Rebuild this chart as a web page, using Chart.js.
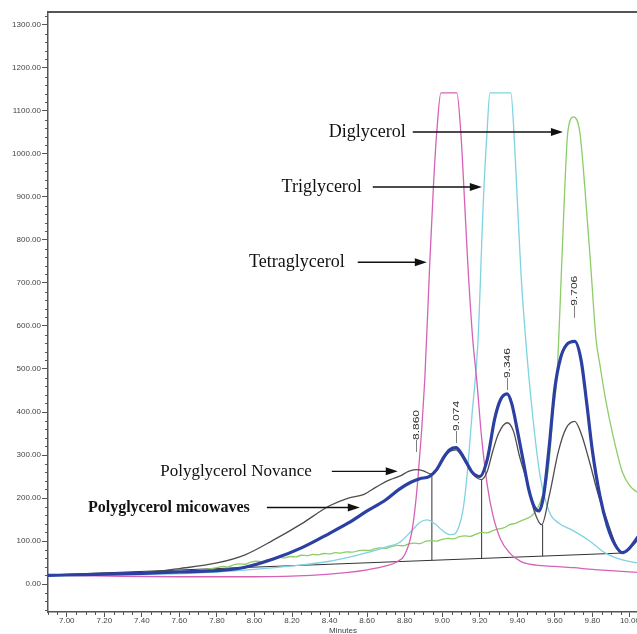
<!DOCTYPE html>
<html>
<head>
<meta charset="utf-8">
<script src="https://cdn.jsdelivr.net/npm/chart.js@4.4.1/dist/chart.umd.min.js"></script>
<style>
html, body { margin: 0; padding: 0; overflow: hidden; background: #fff; }
canvas { display: block; }
</style>
</head>
<body>
<canvas id="graph_canvas" width="660" height="642"></canvas>
<script>
// retention time (minutes) / response for each trace
const microTime = [6.9, 7.0, 7.2, 7.4, 7.6, 7.8, 7.95, 8.1, 8.25, 8.4, 8.5, 8.6, 8.7, 8.77, 8.83, 8.88, 8.93, 8.97, 9.01, 9.04, 9.074, 9.1, 9.13, 9.16, 9.2, 9.24, 9.28, 9.31, 9.346, 9.37, 9.4, 9.43, 9.46, 9.49, 9.515, 9.54, 9.57, 9.6, 9.63, 9.66, 9.706, 9.74, 9.77, 9.8, 9.84, 9.88, 9.92, 9.96, 9.99, 10.043];
const microValue = [20, 21, 23, 25, 28, 31, 39, 58, 84, 118, 142, 170, 196, 220, 236, 245, 250, 266, 296, 312, 317, 305, 282, 260, 250, 290, 385, 428, 442, 420, 358, 290, 222, 180, 170, 205, 320, 455, 525, 555, 564, 520, 420, 310, 205, 135, 92, 73, 80, 110];

const novanceTime = [6.9, 7.0, 7.2, 7.4, 7.6, 7.8, 7.95, 8.1, 8.25, 8.4, 8.5, 8.58, 8.65, 8.72, 8.78, 8.82, 8.86, 8.9, 8.93, 8.95, 8.98, 9.01, 9.04, 9.074, 9.1, 9.13, 9.17, 9.21, 9.24, 9.27, 9.3, 9.346, 9.38, 9.41, 9.45, 9.49, 9.53, 9.57, 9.62, 9.66, 9.706, 9.74, 9.786, 9.83, 9.877, 9.93, 9.957, 9.99, 10.043];
const novanceValue = [20, 21, 23, 26, 36, 49, 68, 102, 140, 182, 200, 208, 226, 242, 252, 262, 266, 263, 257, 255, 270, 293, 308, 312, 300, 278, 252, 243, 262, 310, 350, 375, 355, 300, 240, 170, 138, 205, 310, 362, 378, 350, 282, 210, 149, 86, 72, 80, 102];

const tetraTime = [6.9, 7.0, 7.3, 7.6, 8.0, 8.3, 8.5, 8.6, 8.7, 8.76, 8.8, 8.84, 8.87, 8.907, 8.934, 8.955, 8.971, 8.993, 9.078, 9.099, 9.118, 9.136, 9.163, 9.184, 9.21, 9.24, 9.27, 9.31, 9.36, 9.42, 9.5, 9.6, 9.7, 9.8, 9.9, 10.043];
const tetraValue = [21, 20, 18, 17, 17, 20, 27, 33, 42, 52, 68, 126, 242, 474, 749, 940, 1051, 1142, 1142, 1051, 900, 747, 567, 474, 340, 230, 160, 105, 72, 52, 44, 41, 38, 34, 31, 27];

const triTime = [6.9, 7.2, 7.5, 7.8, 8.0, 8.2, 8.4, 8.5, 8.6, 8.7, 8.77, 8.84, 8.88, 8.92, 8.96, 9.0, 9.04, 9.065, 9.09, 9.11, 9.13, 9.16, 9.19, 9.22, 9.24, 9.254, 9.366, 9.382, 9.397, 9.42, 9.445, 9.48, 9.52, 9.57, 9.62, 9.69, 9.78, 9.87, 9.96, 10.043];
const triValue = [20, 21, 23, 28, 34, 42, 53, 62, 73, 86, 96, 125, 143, 149, 140, 125, 115, 116, 135, 170, 242, 400, 560, 900, 1060, 1142, 1142, 1051, 921, 720, 567, 400, 255, 168, 142, 126, 102, 72, 56, 49];

const diTime = [6.9, 7.2, 7.5, 7.7, 7.8, 7.83, 7.86, 7.89, 7.92, 7.95, 7.98, 8.01, 8.04, 8.07, 8.1, 8.13, 8.16, 8.19, 8.22, 8.25, 8.28, 8.31, 8.34, 8.37, 8.4, 8.43, 8.46, 8.49, 8.52, 8.55, 8.58, 8.61, 8.64, 8.67, 8.7, 8.73, 8.76, 8.79, 8.82, 8.85, 8.88, 8.91, 8.94, 8.97, 9.0, 9.03, 9.06, 9.09, 9.12, 9.15, 9.18, 9.21, 9.24, 9.27, 9.3, 9.33, 9.36, 9.39, 9.42, 9.45, 9.48, 9.51, 9.53, 9.557, 9.575, 9.59, 9.61, 9.637, 9.653, 9.669, 9.7, 9.733, 9.76, 9.79, 9.82, 9.84, 9.87, 9.91, 9.96, 10.0, 10.043];
const diValue = [21, 23, 27, 32, 38, 41, 40, 45, 47, 46, 51, 53, 52, 57, 58, 62, 61, 64, 63, 67, 66, 69, 68, 71, 70, 73, 72, 75, 74, 77, 79, 78, 82, 84, 83, 87, 90, 89, 93, 95, 94, 99, 101, 100, 104, 106, 105, 110, 112, 111, 116, 120, 119, 124, 128, 131, 138, 141, 147, 152, 160, 178, 200, 242, 310, 398, 474, 747, 921, 1051, 1086, 1051, 921, 747, 567, 510, 430, 345, 260, 228, 212];

// integration baseline and peak drop lines
const baseTime = [6.9, 9.957];
const baseValue = [21, 72];
const dropTime = [8.945, 9.21, 9.535];
const dropTop = [255, 243, 138];

// apex labels
const peakTime = [8.860, 9.074, 9.346, 9.706];
const peakLabelAt = [307, 328, 451, 619];

// callouts
const noteText = ['Diglycerol', 'Triglycerol', 'Tetraglycerol', 'Polyglycerol Novance', 'Polyglycerol micowaves'];

function pts(xs, ys) {
    return xs.map((x, i) => ({ x: x, y: ys[i] }));
}

function baseAt(t) {
    return baseValue[0] + (t - baseTime[0]) / (baseTime[1] - baseTime[0]) * (baseValue[1] - baseValue[0]);
}

function trace(label, xs, ys, color, width) {
    return {
        label: label,
        data: pts(xs, ys),
        borderColor: color,
        borderWidth: width,
        pointRadius: 0,
        fill: false,
        cubicInterpolationMode: 'monotone'
    };
}

var datasets = [
    trace('Polyglycerol micowaves', microTime, microValue, '#2c40a3', 3.2),
    trace('Polyglycerol Novance', novanceTime, novanceValue, '#4d4d4d', 1.3),
    trace('Tetraglycerol', tetraTime, tetraValue, '#d462b8', 1.3),
    trace('Triglycerol', triTime, triValue, '#7fd3e0', 1.3),
    trace('Diglycerol', diTime, diValue, '#8ccd68', 1.3),
    { label: 'baseline', data: pts(baseTime, baseValue), borderColor: '#333', borderWidth: 1, pointRadius: 0, tension: 0 }
];
dropTime.forEach((t, i) => {
    datasets.push({
        label: 'drop' + i,
        data: [{ x: t, y: baseAt(t) }, { x: t, y: dropTop[i] }],
        borderColor: '#333', borderWidth: 1, pointRadius: 0, tension: 0
    });
});

// callout positions in data units: text right end, arrow start/end
const noteLayout = [
    { end: 8.806, y: 1051, from: 8.843, to: 9.643, font: '18px "Liberation Serif"' },
    { end: 8.572, y: 923, from: 8.630, to: 9.211, font: '18px "Liberation Serif"' },
    { end: 8.481, y: 748, from: 8.550, to: 8.918, font: '18px "Liberation Serif"' },
    { end: 8.305, y: 262, from: 8.412, to: 8.763, font: '17px "Liberation Serif"' },
    { end: 7.975, y: 178, from: 8.066, to: 8.561, font: 'bold 16px "Liberation Serif"' }
];

const decorations = {
    id: 'decorations',
    afterDraw(chart) {
        const ctx = chart.ctx;
        const xs = chart.scales.x, ys = chart.scales.y;
        const area = chart.chartArea;
        ctx.save();
        // top frame line
        ctx.strokeStyle = '#555';
        ctx.lineWidth = 2;
        ctx.beginPath();
        ctx.moveTo(area.left - 1, area.top);
        ctx.lineTo(area.right, area.top);
        ctx.stroke();

        // minor ticks
        ctx.lineWidth = 1;
        ctx.strokeStyle = '#555';
        ctx.beginPath();
        for (var v = -60; v <= 1320; v += 20) {
            if (v % 100 == 0) continue;
            var py = Math.round(ys.getPixelForValue(v)) + 0.5;
            ctx.moveTo(area.left - 3, py);
            ctx.lineTo(area.left, py);
        }
        for (var i = 138; i <= 200; i++) {
            if (i % 4 == 0) continue;
            var px = Math.round(xs.getPixelForValue(i * 0.05)) + 0.5;
            ctx.moveTo(px, area.bottom);
            ctx.lineTo(px, area.bottom + 3);
        }
        ctx.stroke();

        // apex labels, written upward
        ctx.fillStyle = '#333';
        ctx.font = '12px "Liberation Sans"';
        ctx.textAlign = 'left';
        ctx.textBaseline = 'middle';
        peakTime.forEach((t, k) => {
            ctx.save();
            ctx.translate(xs.getPixelForValue(t), ys.getPixelForValue(peakLabelAt[k]));
            ctx.rotate(-Math.PI / 2);
            ctx.scale(1, 0.8);
            ctx.fillText('\u2014' + t.toFixed(3), 0, 0);
            ctx.restore();
        });

        // callouts with arrows
        ctx.fillStyle = '#111';
        ctx.strokeStyle = '#111';
        ctx.lineWidth = 1.4;
        ctx.textAlign = 'right';
        noteText.forEach((txt, k) => {
            var n = noteLayout[k];
            var y = ys.getPixelForValue(n.y);
            ctx.font = n.font;
            ctx.fillText(txt, xs.getPixelForValue(n.end), y);
            var x1 = xs.getPixelForValue(n.from), x2 = xs.getPixelForValue(n.to);
            ctx.beginPath();
            ctx.moveTo(x1, y);
            ctx.lineTo(x2 - 8, y);
            ctx.stroke();
            ctx.beginPath();
            ctx.moveTo(x2, y);
            ctx.lineTo(x2 - 12, y - 4);
            ctx.lineTo(x2 - 12, y + 4);
            ctx.closePath();
            ctx.fill();
        });
        ctx.restore();
    }
};

Chart.defaults.font.family = '"Liberation Sans", Arial, sans-serif';
Chart.defaults.font.size = 8;
Chart.defaults.color = '#444';

var graph = new Chart(document.getElementById('graph_canvas'), {
    type: 'line',
    data: { datasets: datasets },
    options: {
        responsive: false,
        devicePixelRatio: 1,
        animation: false,
        layout: { padding: { left: 0, top: 12, right: 22, bottom: 0 } },
        plugins: { legend: { display: false }, tooltip: { enabled: false } },
        scales: {
            x: {
                type: 'linear',
                min: 6.9,
                max: 10.043,
                afterBuildTicks: scale => {
                    var t = [];
                    for (var i = 35; i <= 50; i++) t.push({ value: i / 5 });
                    scale.ticks = t;
                },
                afterFit: scale => { scale.height = 30; },
                ticks: { callback: v => v.toFixed(2), padding: -1, maxRotation: 0, autoSkip: false },
                grid: { drawOnChartArea: false, tickLength: 5, tickColor: '#555' },
                border: { color: '#555', width: 1.5 },
                title: { display: true, text: 'Minutes', font: { size: 8 }, padding: { top: 0, bottom: 6 } }
            },
            y: {
                min: -65,
                max: 1330,
                afterBuildTicks: scale => {
                    var t = [];
                    for (var v = 0; v <= 1300; v += 100) t.push({ value: v });
                    scale.ticks = t;
                },
                afterFit: scale => { scale.width = 48; },
                ticks: { callback: v => v.toFixed(2), padding: 1, autoSkip: false },
                grid: { drawOnChartArea: false, tickLength: 6, tickColor: '#555' },
                border: { color: '#555', width: 1.5 }
            }
        }
    },
    plugins: [decorations]
});
</script>
</body>
</html>
